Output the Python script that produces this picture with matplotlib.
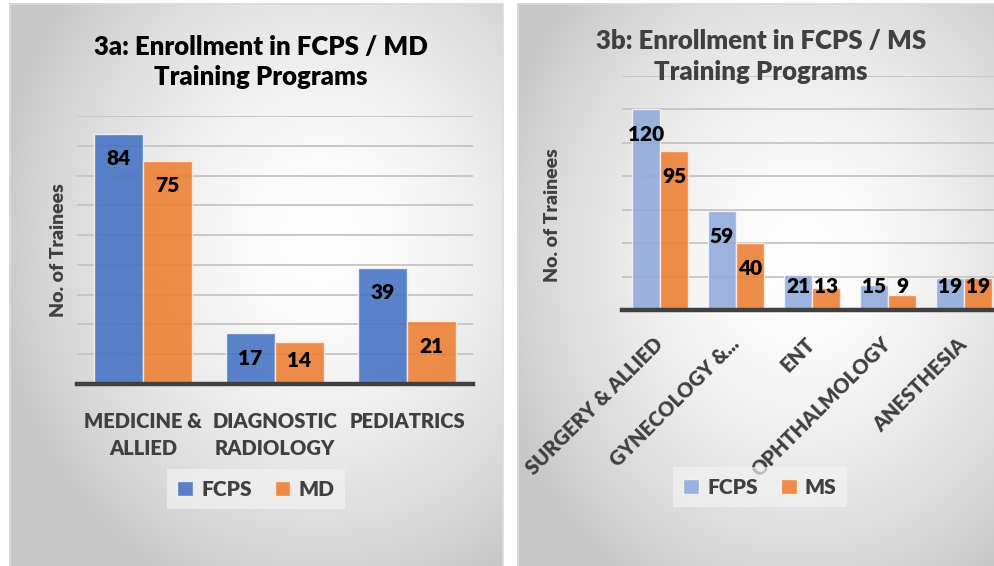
import numpy as np
import matplotlib
matplotlib.use("Agg")
import matplotlib.pyplot as plt
import matplotlib.patches as mpatches
from matplotlib.transforms import ScaledTranslation

plt.rcParams['font.family'] = ['Lato', 'DejaVu Sans']
plt.rcParams['font.weight'] = 800
BW = 800

# data
md_categories = ['MEDICINE &\nALLIED', 'DIAGNOSTIC\nRADIOLOGY', 'PEDIATRICS']
md_fcps = [84, 17, 39]
md_md = [75, 14, 21]

ms_categories = ['SURGERY & ALLIED', 'GYNECOLOGY &...', 'ENT', 'OPHTHALMOLOGY', 'ANESTHESIA']
ms_fcps = [120, 59, 21, 15, 19]
ms_ms = [95, 40, 13, 9, 19]

W, H = 994, 566
fig = plt.figure(figsize=(W / 100, H / 100), dpi=100)

# background: two panels with radial gray gradient
yy, xx = np.mgrid[0:H, 0:W].astype(float)
img = np.ones((H, W))


def panel_grad(x0, x1, y0, cx, cy, rx, ry):
    d = np.sqrt(((xx - cx) / rx) ** 2 + ((yy - cy) / ry) ** 2)
    g = 1 - (55 / 255) * np.clip(d, 0, 1) ** 1.6
    m = (xx >= x0) & (xx < x1) & (yy >= y0)
    img[m] = g[m]


panel_grad(9, 503, 3, 320, 240, 330, 380)
panel_grad(517, W, 3, 800, 260, 320, 380)
bg = fig.add_axes([0, 0, 1, 1], zorder=-5)
bg.imshow(np.dstack([img] * 3), aspect='auto', extent=(0, W, H, 0))
bg.add_patch(mpatches.Rectangle((9.5, 3.5), 493, 570, fill=False, ec='#dcdcdc', lw=1.2))
bg.add_patch(mpatches.Rectangle((517.5, 3.5), 490, 570, fill=False, ec='#dcdcdc', lw=1.2))
bg.set_xlim(0, W)
bg.set_ylim(H, 0)
bg.axis('off')


def px_axes(x0, x1, ytop, ybase):
    return fig.add_axes([x0 / W, (H - ybase) / H, (x1 - x0) / W, (ybase - ytop) / H])


def draw(ax, cats, s1, s2, c1, c2, ymax, step, base_px):
    n = len(cats)
    x = np.arange(n)
    w = 0.37
    ax.set_facecolor('none')
    b1 = ax.bar(x - w / 2, s1, w, color=c1, alpha=0.88, edgecolor='#f4f6fb', lw=1, zorder=3)
    b2 = ax.bar(x + w / 2, s2, w, color=c2, alpha=0.88, edgecolor='#fbeee4', lw=1, zorder=3)
    ax.set_xlim(-0.5, n - 0.5)
    ax.set_ylim(0, ymax)
    ax.set_yticks(np.arange(0, ymax + 1, step))
    ax.yaxis.grid(True, color='#c4c4c4', lw=1.3, zorder=0)
    ax.set_axisbelow(True)
    ax.tick_params(left=False, labelleft=False, bottom=False)
    for s in ['top', 'right', 'left']:
        ax.spines[s].set_visible(False)
    ax.spines['bottom'].set_color('#404040')
    ax.spines['bottom'].set_linewidth(3.2)
    ax.spines['bottom'].set_zorder(5)
    ppu = base_px / ymax
    for xs, vals in [(x - w / 2, s1), (x + w / 2, s2)]:
        for xi, v in zip(xs, vals):
            yl = max(v - 25 / ppu, 23.5 / ppu)
            ax.text(xi, yl, str(v), ha='center', va='center', fontsize=15,
                    fontweight=BW, color='black', zorder=6)
    return b1, b2


leg_kw = dict(loc='center', ncol=2, frameon=True, facecolor='#f2f2f2', edgecolor='none',
              framealpha=0.7, fancybox=False, labelcolor='#404040', handlelength=0.75,
              handleheight=0.75, handletextpad=0.4, columnspacing=1.1, borderpad=0.5,
              prop={'size': 15, 'weight': BW})

# left chart
axl = px_axes(77, 473, 116, 384)
bl1, bl2 = draw(axl, md_categories, md_fcps, md_md, '#4472C4', '#ED7D31', 90, 10, 268)
axl.set_xticks(np.arange(3))
axl.set_xticklabels(md_categories, fontsize=14.5, fontweight=BW, color='#404040',
                    linespacing=1.45)
axl.tick_params(axis='x', pad=17)
fig.text(261 / W, 1 - 62 / H, '3a: Enrollment in FCPS / MD\nTraining Programs', ha='center',
         va='center', fontsize=18.5, fontweight=BW, color='black', linespacing=1.3)
fig.text(59 / W, 1 - 250 / H, 'No. of Trainees', rotation=90, ha='center', va='center',
         fontsize=14, fontweight=BW, color='#404040')
fig.legend([bl1, bl2], ['FCPS', 'MD'], bbox_to_anchor=(256 / W, 1 - 489 / H), **leg_kw)

# right chart
axr = px_axes(622, 1002, 76, 310)
br1, br2 = draw(axr, ms_categories, ms_fcps, ms_ms, '#8FAADC', '#ED7D31', 140, 20, 234)
axr.set_xticks(np.arange(5))
axr.set_xticklabels(ms_categories, fontsize=14.5, fontweight=BW, color='#404040',
                    rotation=45, ha='right', va='top', rotation_mode='anchor')
axr.tick_params(axis='x', pad=14)
shift = ScaledTranslation(-7 / 100, 0, fig.dpi_scale_trans)
for lbl in axr.get_xticklabels():
    lbl.set_transform(lbl.get_transform() + shift)
fig.text(761 / W, 1 - 56 / H, '3b: Enrollment in FCPS / MS\nTraining Programs', ha='center',
         va='center', fontsize=18.5, fontweight=BW, color='#404040', linespacing=1.35)
fig.text(552 / W, 1 - 215 / H, 'No. of Trainees', rotation=90, ha='center', va='center',
         fontsize=14, fontweight=BW, color='#404040')
fig.legend([br1, br2], ['FCPS', 'MS'], bbox_to_anchor=(760 / W, 1 - 487 / H), **leg_kw)

fig.savefig('out.png', dpi=100)
